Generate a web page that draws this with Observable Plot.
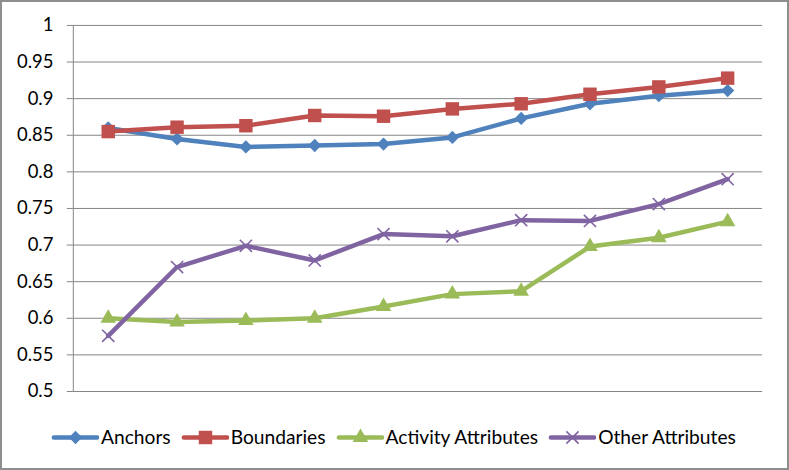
<!DOCTYPE html>
<html>
<head>
<meta charset="utf-8">
<script src="https://cdn.jsdelivr.net/npm/d3@7"></script>
<script src="https://cdn.jsdelivr.net/npm/@observablehq/plot@0.6"></script>
<style>
  html, body { margin: 0; padding: 0; background: #fff; }
  #wrap { position: relative; width: 789px; height: 470px; box-sizing: border-box; border: 2px solid #8e8e8e; overflow: hidden; font-family: Lato, "Open Sans", sans-serif; }
  #chart { position: absolute; left: -2px; top: -2px; }
  #legend { position: absolute; left: 49px; top: 423px; display: flex; align-items: center; font-size: 19.2px; color: #000; white-space: nowrap; }
  .item { display: flex; align-items: center; margin-right: 10px; }
  .item svg { margin-right: 2px; }
</style>
</head>
<body>
<div id="wrap"><div id="chart"></div><div id="legend"></div></div>
<script>
const categories = [1, 2, 3, 4, 5, 6, 7, 8, 9, 10];
const seriesNames = ["Anchors", "Boundaries", "Activity Attributes", "Other Attributes"];
const anchors   = [0.860, 0.845, 0.834, 0.836, 0.838, 0.847, 0.873, 0.893, 0.904, 0.911];
const boundaries = [0.855, 0.861, 0.863, 0.877, 0.876, 0.886, 0.893, 0.906, 0.916, 0.928];
const activity  = [0.600, 0.595, 0.597, 0.600, 0.616, 0.633, 0.637, 0.698, 0.710, 0.732];
const other     = [0.576, 0.670, 0.699, 0.679, 0.715, 0.712, 0.734, 0.733, 0.756, 0.790];
const yTicks = [0.5, 0.55, 0.6, 0.65, 0.7, 0.75, 0.8, 0.85, 0.9, 0.95, 1];

const colors = ["#4F81BD", "#C0504D", "#9BBB59", "#8064A2"];
const symbols = ["diamond2", "square", "triangle", "times"];
const radii = [6, 7.6, 5.8, 5.6];
const allValues = [anchors, boundaries, activity, other];

const rows = allValues.map((vals, s) => categories.map((c, i) => ({cat: c, value: vals[i], series: seriesNames[s]})));

const marks = [
  Plot.gridY(yTicks, {stroke: "#868686", strokeOpacity: 1, strokeWidth: 1}),
  Plot.axisY(yTicks, {tickSize: 6, stroke: "#868686", strokeOpacity: 1, tickPadding: 14, fontSize: 18.5, fill: "#000",
    tickFormat: d => String(+d.toFixed(2)), fontFamily: "Lato", label: null}),
  Plot.frame({anchor: "left", stroke: "#868686"})
];
rows.forEach((data, s) => {
  marks.push(Plot.line(data, {x: "cat", y: "value", stroke: colors[s], strokeWidth: 4.5, strokeLinejoin: "round", strokeLinecap: "round"}));
  const isStroke = symbols[s] === "times";
  marks.push(Plot.dot(data, {x: "cat", y: "value", symbol: () => symbols[s], r: radii[s],
    fill: isStroke ? "none" : colors[s], stroke: isStroke ? colors[s] : "none", strokeWidth: isStroke ? 1.6 : 0}));
});

const chart = Plot.plot({
  width: 789,
  height: 420,
  marginLeft: 73,
  marginRight: 25,
  marginTop: 25,
  marginBottom: 28,
  style: {fontFamily: "Lato", background: "transparent"},
  x: {type: "point", domain: categories, padding: 0.5, axis: null},
  y: {domain: [0.5, 1], axis: null, label: null},
  symbol: {type: "identity"},
  marks
});
document.getElementById("chart").append(chart);

// Legend
const legend = document.getElementById("legend");
seriesNames.forEach((name, s) => {
  const item = document.createElement("div");
  item.className = "item";
  const sw = Plot.plot({
    width: 48, height: 20, margin: 0,
    x: {domain: [0, 1], axis: null}, y: {domain: [0, 1], axis: null},
    symbol: {type: "identity"},
    marks: [
      Plot.line([[0.05, 0.5], [0.95, 0.5]], {stroke: colors[s], strokeWidth: 4.5, strokeLinecap: "round"}),
      Plot.dot([[0.5, 0.5]], {symbol: () => symbols[s], r: radii[s],
        fill: symbols[s] === "times" ? "none" : colors[s], stroke: symbols[s] === "times" ? colors[s] : "none", strokeWidth: 1.6})
    ]
  });
  item.append(sw);
  const t = document.createElement("span");
  t.textContent = name;
  item.append(t);
  legend.append(item);
});
</script>
</body>
</html>
